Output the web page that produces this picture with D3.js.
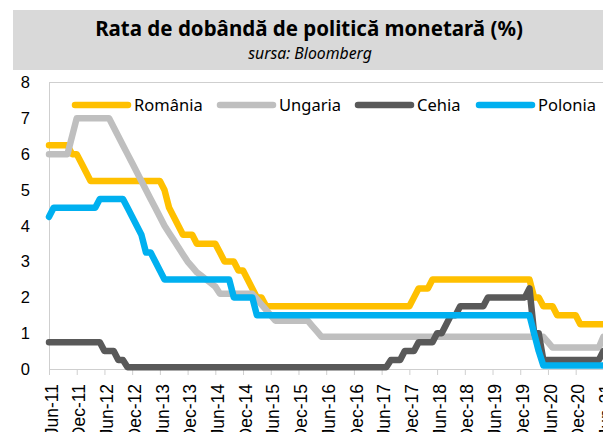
<!DOCTYPE html>
<html lang="ro">
<head>
<meta charset="UTF-8">
<title>Rata de dobândă de politică monetară (%)</title>
<script src="https://cdn.jsdelivr.net/npm/d3@7/dist/d3.min.js"></script>
<style>
  body { margin: 0; background: #fff; }
  svg { display: block; font-family: "Noto Sans", sans-serif; }
  .axis path, .axis line { stroke: #cfcfcf; }
  .axis text { fill: #000; font-size: 16.5px; }
  .x-axis text { font-size: 17.5px; }
  .series { fill: none; stroke-width: 6.5px; stroke-linejoin: round; stroke-linecap: round; }
</style>
</head>
<body>
<script>
  const width = 603;
  const height = 432;

  // etichetele axei X (din 6 in 6 luni, iunie 2011 - iunie 2021)
  const tickLabels = ['Jun-11', 'Dec-11', 'Jun-12', 'Dec-12', 'Jun-13', 'Dec-13', 'Jun-14',
    'Dec-14', 'Jun-15', 'Dec-15', 'Jun-16', 'Dec-16', 'Jun-17', 'Dec-17', 'Jun-18',
    'Dec-18', 'Jun-19', 'Dec-19', 'Jun-20', 'Dec-20', 'Jun-21'];
  const yTicks = [0, 1, 2, 3, 4, 5, 6, 7, 8];

  // valori lunare, iun 2011 ... iun 2021
  const romania = [
    6.25, 6.25, 6.25, 6.25, 6.25, 6.00, 6.00,
    5.75, 5.50, 5.25, 5.25, 5.25, 5.25, 5.25, 5.25, 5.25, 5.25, 5.25, 5.25,
    5.25, 5.25, 5.25, 5.25, 5.25, 5.25, 5.00, 4.50, 4.25, 4.00, 3.75, 3.75,
    3.75, 3.50, 3.50, 3.50, 3.50, 3.50, 3.25, 3.00, 3.00, 3.00, 2.75, 2.75,
    2.50, 2.25, 2.00, 2.00, 1.75, 1.75, 1.75, 1.75, 1.75, 1.75, 1.75, 1.75,
    1.75, 1.75, 1.75, 1.75, 1.75, 1.75, 1.75, 1.75, 1.75, 1.75, 1.75, 1.75,
    1.75, 1.75, 1.75, 1.75, 1.75, 1.75, 1.75, 1.75, 1.75, 1.75, 1.75, 1.75,
    2.00, 2.25, 2.25, 2.25, 2.50, 2.50, 2.50, 2.50, 2.50, 2.50, 2.50, 2.50,
    2.50, 2.50, 2.50, 2.50, 2.50, 2.50, 2.50, 2.50, 2.50, 2.50, 2.50, 2.50,
    2.50, 2.50, 2.00, 2.00, 1.75, 1.75, 1.75, 1.50, 1.50, 1.50, 1.50, 1.50,
    1.25, 1.25, 1.25, 1.25, 1.25, 1.25
  ];
  const ungaria = [
    6.00, 6.00, 6.00, 6.00, 6.00, 6.50, 7.00,
    7.00, 7.00, 7.00, 7.00, 7.00, 7.00, 7.00, 6.75, 6.50, 6.25, 6.00, 5.75,
    5.50, 5.25, 5.00, 4.75, 4.50, 4.25, 4.00, 3.80, 3.60, 3.40, 3.20, 3.00,
    2.85, 2.70, 2.60, 2.50, 2.40, 2.30, 2.10, 2.10, 2.10, 2.10, 2.10, 2.10,
    2.10, 2.10, 1.95, 1.80, 1.65, 1.50, 1.35, 1.35, 1.35, 1.35, 1.35, 1.35,
    1.35, 1.35, 1.20, 1.05, 0.90, 0.90, 0.90, 0.90, 0.90, 0.90, 0.90, 0.90,
    0.90, 0.90, 0.90, 0.90, 0.90, 0.90, 0.90, 0.90, 0.90, 0.90, 0.90, 0.90,
    0.90, 0.90, 0.90, 0.90, 0.90, 0.90, 0.90, 0.90, 0.90, 0.90, 0.90, 0.90,
    0.90, 0.90, 0.90, 0.90, 0.90, 0.90, 0.90, 0.90, 0.90, 0.90, 0.90, 0.90,
    0.90, 0.90, 0.90, 0.90, 0.90, 0.75, 0.60, 0.60, 0.60, 0.60, 0.60, 0.60,
    0.60, 0.60, 0.60, 0.60, 0.60, 0.90
  ];
  const cehia = [
    0.75, 0.75, 0.75, 0.75, 0.75, 0.75, 0.75,
    0.75, 0.75, 0.75, 0.75, 0.75, 0.50, 0.50, 0.50, 0.25, 0.25, 0.05, 0.05,
    0.05, 0.05, 0.05, 0.05, 0.05, 0.05, 0.05, 0.05, 0.05, 0.05, 0.05, 0.05,
    0.05, 0.05, 0.05, 0.05, 0.05, 0.05, 0.05, 0.05, 0.05, 0.05, 0.05, 0.05,
    0.05, 0.05, 0.05, 0.05, 0.05, 0.05, 0.05, 0.05, 0.05, 0.05, 0.05, 0.05,
    0.05, 0.05, 0.05, 0.05, 0.05, 0.05, 0.05, 0.05, 0.05, 0.05, 0.05, 0.05,
    0.05, 0.05, 0.05, 0.05, 0.05, 0.05, 0.05, 0.25, 0.25, 0.25, 0.50, 0.50,
    0.50, 0.75, 0.75, 0.75, 0.75, 1.00, 1.00, 1.25, 1.50, 1.50, 1.75, 1.75,
    1.75, 1.75, 1.75, 1.75, 2.00, 2.00, 2.00, 2.00, 2.00, 2.00, 2.00, 2.00,
    2.00, 2.25, 1.00, 1.00, 0.25, 0.25, 0.25, 0.25, 0.25, 0.25, 0.25, 0.25,
    0.25, 0.25, 0.25, 0.25, 0.25, 0.50
  ];
  const polonia = [
    4.25, 4.50, 4.50, 4.50, 4.50, 4.50, 4.50,
    4.50, 4.50, 4.50, 4.50, 4.75, 4.75, 4.75, 4.75, 4.75, 4.75, 4.50, 4.25,
    4.00, 3.75, 3.25, 3.25, 3.00, 2.75, 2.50, 2.50, 2.50, 2.50, 2.50, 2.50,
    2.50, 2.50, 2.50, 2.50, 2.50, 2.50, 2.50, 2.50, 2.50, 2.00, 2.00, 2.00,
    2.00, 2.00, 1.50, 1.50, 1.50, 1.50, 1.50, 1.50, 1.50, 1.50, 1.50, 1.50,
    1.50, 1.50, 1.50, 1.50, 1.50, 1.50, 1.50, 1.50, 1.50, 1.50, 1.50, 1.50,
    1.50, 1.50, 1.50, 1.50, 1.50, 1.50, 1.50, 1.50, 1.50, 1.50, 1.50, 1.50,
    1.50, 1.50, 1.50, 1.50, 1.50, 1.50, 1.50, 1.50, 1.50, 1.50, 1.50, 1.50,
    1.50, 1.50, 1.50, 1.50, 1.50, 1.50, 1.50, 1.50, 1.50, 1.50, 1.50, 1.50,
    1.50, 1.50, 1.00, 0.50, 0.10, 0.10, 0.10, 0.10, 0.10, 0.10, 0.10, 0.10,
    0.10, 0.10, 0.10, 0.10, 0.10, 0.10
  ];

  const seriesNames = ['România', 'Ungaria', 'Cehia', 'Polonia'];
  const seriesColors = ['#FFC000', '#BFBFBF', '#595959', '#00B0F0'];
  const series = [romania, ungaria, cehia, polonia];

  // scale
  const x = d3.scaleLinear().domain([0, romania.length - 1]).range([49, 603.4]);
  const y = d3.scaleLinear().domain([0, 8]).range([369, 82.5]);

  let svg = d3.select('body')
    .append('svg')
    .attr('width', width)
    .attr('height', height);

  // titlu
  svg.append('rect')
    .attr('x', 13).attr('y', 10)
    .attr('width', width - 13).attr('height', 60)
    .attr('fill', '#d9d9d9');
  svg.append('text')
    .attr('x', 309).attr('y', 36)
    .attr('text-anchor', 'middle')
    .style('font-size', '20.5px')
    .style('font-weight', 'bold')
    .text('Rata de dobândă de politică monetară (%)');
  svg.append('text')
    .attr('x', 310).attr('y', 59)
    .attr('text-anchor', 'middle')
    .style('font-size', '15.8px')
    .style('font-style', 'italic')
    .text('sursa: Bloomberg');

  // chenar sus
  svg.append('line')
    .attr('x1', 49).attr('x2', width)
    .attr('y1', 82.5).attr('y2', 82.5)
    .attr('stroke', '#cfcfcf');

  // axa Y
  svg.append('g')
    .attr('class', 'axis')
    .attr('transform', 'translate(49,0)')
    .call(d3.axisLeft(y).tickValues(yTicks).tickSize(0).tickPadding(19));

  // axa X
  let xAxis = svg.append('g')
    .attr('class', 'axis x-axis')
    .attr('transform', 'translate(0,369)')
    .call(d3.axisBottom(x)
      .tickValues(tickLabels.map((d, i) => i * 6))
      .tickFormat((d, i) => tickLabels[i])
      .tickSizeInner(6)
      .tickSizeOuter(0));
  xAxis.selectAll('text')
    .attr('transform', 'rotate(-90)')
    .attr('x', -15)
    .attr('y', 2)
    .attr('dy', '0.35em')
    .style('text-anchor', 'end');

  // liniile
  const line = d3.line()
    .x((d, i) => x(i))
    .y(d => y(d));

  svg.append('g')
    .selectAll('path')
    .data(series)
    .enter()
    .append('path')
    .attr('class', 'series')
    .attr('stroke', (d, i) => seriesColors[i])
    .attr('d', line);

  // legenda
  const legendX = [75, 220, 358, 479];
  let legend = svg.append('g')
    .selectAll('g')
    .data(seriesNames)
    .enter()
    .append('g')
    .attr('transform', (d, i) => 'translate(' + legendX[i] + ',105)');
  legend.append('line')
    .attr('x1', 0).attr('x2', 53)
    .attr('stroke', (d, i) => seriesColors[i])
    .attr('stroke-width', 6.5)
    .attr('stroke-linecap', 'round');
  legend.append('text')
    .attr('x', 59)
    .attr('dy', '0.35em')
    .style('font-size', '16.5px')
    .text(d => d);
</script>
</body>
</html>
